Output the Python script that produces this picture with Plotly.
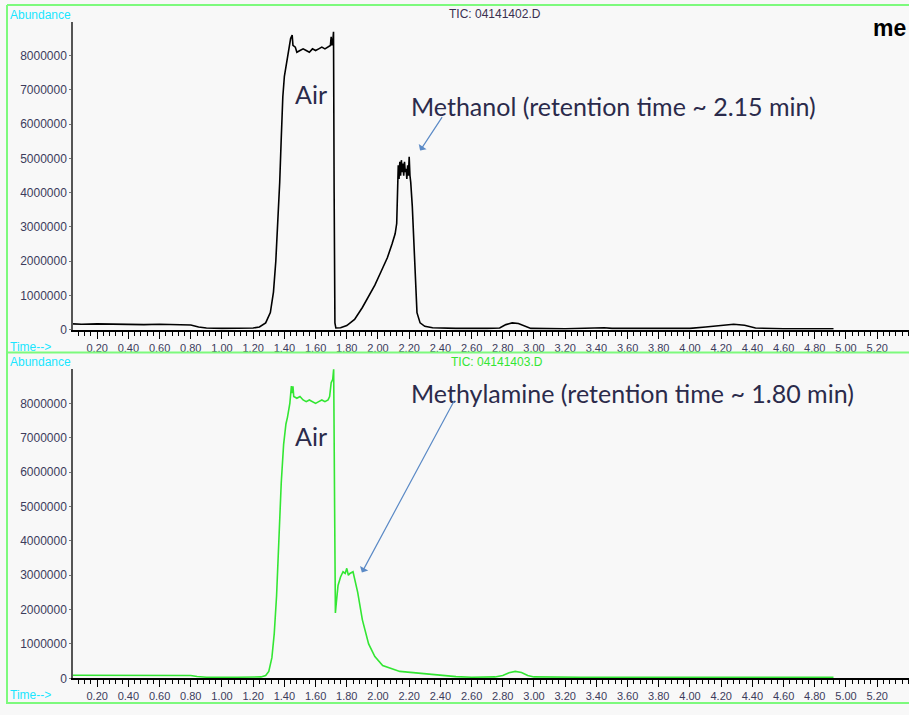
import plotly.graph_objects as go

# ---------------- data ----------------
# Top chromatogram (TIC: 04141402.D) – time (min), abundance (millions)
top_time = [0.045, 0.10, 0.20, 0.30, 0.40, 0.50, 0.60, 0.70, 0.75, 0.80, 0.85, 0.90, 1.00, 1.10, 1.20,
            1.24, 1.28, 1.31, 1.33, 1.345, 1.36, 1.37, 1.38, 1.39, 1.40, 1.415, 1.43, 1.44, 1.45, 1.455,
            1.47, 1.48, 1.50, 1.52, 1.54, 1.56, 1.58, 1.60, 1.62, 1.64, 1.66, 1.68, 1.695, 1.70, 1.705,
            1.71, 1.715, 1.719, 1.724, 1.73, 1.76, 1.80, 1.85, 1.90, 1.95, 1.98, 2.02, 2.06, 2.09, 2.11,
            2.12, 2.125, 2.13, 2.135, 2.14, 2.145, 2.15, 2.155, 2.16, 2.165, 2.17, 2.175, 2.18, 2.185,
            2.19, 2.195, 2.20, 2.205, 2.21, 2.22, 2.23, 2.24, 2.25, 2.27, 2.30, 2.35, 2.50, 2.70, 2.78,
            2.82, 2.86, 2.90, 2.94, 2.98, 3.20, 3.40, 3.45, 3.50, 3.80, 4.00, 4.10, 4.20, 4.28, 4.35,
            4.42, 4.60, 4.92]
top_abund = [0.17, 0.16, 0.17, 0.16, 0.16, 0.15, 0.16, 0.15, 0.16, 0.14, 0.08, 0.05, 0.04, 0.04, 0.05,
             0.08, 0.20, 0.50, 1.10, 2.00, 3.20, 4.30, 5.60, 6.80, 7.40, 7.80, 8.20, 8.50, 8.60, 8.30,
             8.25, 8.10, 8.15, 8.20, 8.15, 8.10, 8.20, 8.15, 8.20, 8.25, 8.20, 8.25, 8.30, 8.55, 8.30,
             8.40, 8.70, 4.00, 0.20, 0.05, 0.06, 0.12, 0.30, 0.65, 1.05, 1.30, 1.70, 2.10, 2.50, 2.80,
             3.10, 4.20, 4.80, 4.40, 4.90, 4.50, 4.95, 4.60, 4.85, 4.50, 4.90, 4.60, 4.70, 4.40,
             4.80, 4.50, 5.05, 4.50, 4.30, 3.60, 2.50, 1.20, 0.50, 0.20, 0.10, 0.06, 0.04, 0.04, 0.05,
             0.15, 0.20, 0.18, 0.10, 0.04, 0.03, 0.04, 0.06, 0.04, 0.03, 0.04, 0.08, 0.13, 0.16, 0.13,
             0.05, 0.03, 0.03]

# Bottom chromatogram (TIC: 04141403.D)
bot_time = [0.045, 0.20, 0.40, 0.60, 0.80, 0.84, 0.90, 1.10, 1.25, 1.28, 1.30, 1.32, 1.335, 1.35, 1.36,
            1.37, 1.38, 1.395, 1.41, 1.42, 1.435, 1.445, 1.45, 1.455, 1.46, 1.48, 1.50, 1.52, 1.54,
            1.56, 1.58, 1.60, 1.62, 1.64, 1.66, 1.68, 1.69, 1.70, 1.71, 1.716, 1.722, 1.727, 1.733,
            1.744, 1.76, 1.776, 1.79, 1.80, 1.81, 1.82, 1.84, 1.855, 1.87, 1.90, 1.94, 1.98, 2.03,
            2.14, 2.35, 2.50, 2.60, 2.75, 2.80, 2.84, 2.88, 2.92, 2.96, 3.00, 3.30, 3.60, 4.00, 4.40,
            4.70, 4.92]
bot_abund = [0.09, 0.09, 0.09, 0.08, 0.08, 0.05, 0.03, 0.03, 0.04, 0.08, 0.20, 0.60, 1.30, 2.40, 3.50,
             4.60, 5.70, 6.80, 7.40, 7.60, 8.00, 8.50, 8.30, 8.50, 8.20, 8.15, 8.20, 8.10, 8.05,
             8.10, 8.05, 8.00, 8.05, 8.10, 8.05, 8.10, 8.20, 8.60, 8.70, 9.00, 5.00, 1.90, 2.20,
             2.70, 2.95, 3.10, 3.05, 3.20, 3.00, 3.05, 3.10, 2.80, 2.50, 1.70, 1.00, 0.63, 0.37,
             0.20, 0.10, 0.05, 0.03, 0.04, 0.08, 0.16, 0.20, 0.17, 0.08, 0.04, 0.03, 0.03, 0.03, 0.03,
             0.03, 0.03]

x_tickvals = [0.2, 0.4, 0.6, 0.8, 1.0, 1.2, 1.4, 1.6, 1.8, 2.0, 2.2, 2.4, 2.6, 2.8, 3.0, 3.2, 3.4,
              3.6, 3.8, 4.0, 4.2, 4.4, 4.6, 4.8, 5.0, 5.2]
x_ticktext = ["0.20", "0.40", "0.60", "0.80", "1.00", "1.20", "1.40", "1.60", "1.80", "2.00", "2.20",
              "2.40", "2.60", "2.80", "3.00", "3.20", "3.40", "3.60", "3.80", "4.00", "4.20", "4.40",
              "4.60", "4.80", "5.00", "5.20"]
y_tickvals = [0, 1000000, 2000000, 3000000, 4000000, 5000000, 6000000, 7000000, 8000000]
y_ticktext = ["0", "1000000", "2000000", "3000000", "4000000", "5000000", "6000000", "7000000", "8000000"]

# ---------------- figure ----------------
W, H = 909, 715
def px(x):
    return x / W
def py(y):
    return 1 - y / H

BG = "#f8f8f8"
CYAN = "#19e6ff"
FRAME = "#7dfa7d"
GREEN = "#33e633"
TXT = "#2b2b4b"
TICKTXT = "#3c3c5c"
ARROW = "#5b8ac6"

fig = go.Figure()
fig.add_trace(go.Scatter(x=top_time, y=[v * 1e6 for v in top_abund], mode="lines",
                         line=dict(color="black", width=1.6), xaxis="x", yaxis="y",
                         showlegend=False, hoverinfo="skip"))
fig.add_trace(go.Scatter(x=bot_time, y=[v * 1e6 for v in bot_abund], mode="lines",
                         line=dict(color=GREEN, width=1.6), xaxis="x2", yaxis="y2",
                         showlegend=False, hoverinfo="skip"))

xrange = [0.045, 5.404]
xcommon = dict(range=xrange, domain=[px(73), 1.0], showgrid=False, zeroline=False,
               showline=True, linecolor="black", linewidth=2,
               tickmode="array", tickvals=x_tickvals, ticktext=x_ticktext,
               ticks="outside", ticklen=7, tickwidth=1, tickcolor="black",
               tickfont=dict(family="Liberation Sans", size=11, color=TICKTXT),
               minor=dict(dtick=0.04, tick0=0, ticks="outside", ticklen=4, tickcolor="black", tickwidth=1))
ycommon = dict(range=[0, 8.99e6], showgrid=False, zeroline=False, showline=True,
               linecolor="#555555", linewidth=1.5, tickmode="array", tickvals=y_tickvals,
               ticktext=y_ticktext, ticks="outside", ticklen=2, tickcolor="#777777",
               tickfont=dict(family="Liberation Sans", size=12, color=TICKTXT))

fig.update_layout(
    width=W, height=H, margin=dict(l=0, r=0, t=0, b=0),
    paper_bgcolor=BG, plot_bgcolor=BG,
    xaxis=dict(**xcommon, anchor="y"),
    yaxis=dict(**ycommon, domain=[py(333), py(22)], anchor="x"),
    xaxis2=dict(**xcommon, anchor="y2"),
    yaxis2=dict(**ycommon, domain=[py(685), py(373)], anchor="x2"),
)

ann = []
small = dict(family="Liberation Sans", size=12)
ann.append(dict(text="Abundance", x=px(8), y=py(15), xref="paper", yref="paper", xanchor="left",
                yanchor="middle", showarrow=False, font=dict(**small, color=CYAN)))
ann.append(dict(text="Time-->", x=px(8), y=py(350), xref="paper", yref="paper", xanchor="left",
                yanchor="middle", showarrow=False, font=dict(**small, color=CYAN)))
ann.append(dict(text="TIC: 04141402.D", x=px(495), y=py(14), xref="paper", yref="paper",
                xanchor="center", yanchor="middle", showarrow=False, font=dict(**small, color="#3a3050")))
ann.append(dict(text="Abundance", x=px(8), y=py(366), xref="paper", yref="paper", xanchor="left",
                yanchor="middle", showarrow=False, font=dict(**small, color=CYAN)))
ann.append(dict(text="Time-->", x=px(8), y=py(702), xref="paper", yref="paper", xanchor="left",
                yanchor="middle", showarrow=False, font=dict(**small, color=CYAN)))
ann.append(dict(text="TIC: 04141403.D", x=px(497), y=py(366), xref="paper", yref="paper",
                xanchor="center", yanchor="middle", showarrow=False, font=dict(**small, color=GREEN)))
ann.append(dict(text="<b>me</b>", x=px(871), y=py(28), xref="paper", yref="paper", xanchor="left",
                yanchor="middle", showarrow=False,
                font=dict(family="Liberation Sans", size=23, color="black")))

big = dict(family="Lato", size=25, color=TXT)
ann.append(dict(text="Air", x=1.57, y=6.88e6, xref="x", yref="y", showarrow=False, font=big))
ann.append(dict(text="Methanol (retention time ~ 2.15 min)", x=2.200, y=6.53e6, xref="x", yref="y",
                xanchor="left", showarrow=False, font=big))
ann.append(dict(text="", x=2.27, y=5.23e6, xref="x", yref="y", ax=23, ay=-35, showarrow=True,
                arrowhead=1, arrowsize=1.3, arrowwidth=1.2, arrowcolor=ARROW))
ann.append(dict(text="Air", x=1.57, y=7.06e6, xref="x2", yref="y2", showarrow=False, font=big))
ann.append(dict(text="Methylamine (retention time ~ 1.80 min)", x=2.200, y=8.3e6, xref="x2", yref="y2",
                xanchor="left", showarrow=False, font=big))
ann.append(dict(text="", x=1.897, y=3.08e6, xref="x2", yref="y2", ax=93, ay=-173, showarrow=True,
                arrowhead=1, arrowsize=1.3, arrowwidth=1.2, arrowcolor=ARROW))
fig.update_layout(annotations=ann)

shapes = []
for (x0, y0, x1, y1) in [(7, 5, 909, 5), (7, 5, 7, 711), (7, 356, 909, 356), (7, 710, 909, 710)]:
    shapes.append(dict(type="line", xref="paper", yref="paper", x0=px(x0), y0=py(y0), x1=px(x1), y1=py(y1),
                       line=dict(color=FRAME, width=2)))
fig.update_layout(shapes=shapes)

fig.write_html("out.html", config={"displayModeBar": False},
               post_script="document.body.style.margin='0';document.body.style.overflow='hidden';")
